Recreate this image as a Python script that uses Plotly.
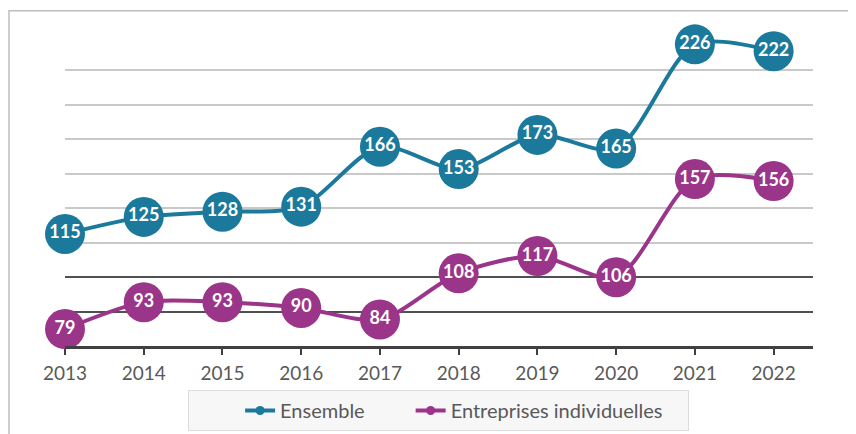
import plotly.graph_objects as go

years = [2013, 2014, 2015, 2016, 2017, 2018, 2019, 2020, 2021, 2022]
ensemble = [115, 125, 128, 131, 166, 153, 173, 165, 226, 222]
entreprises = [79, 93, 93, 90, 84, 108, 117, 106, 157, 156]
series_names = ["Ensemble", "Entreprises individuelles"]
light_grid_vals = [110, 130, 150, 170, 190, 210, 230]
dark_grid_vals = [70, 90]

TEAL = "#1b7a9b"
PURPLE = "#9b358a"
FONT = "Lato"
NB = "\u00a0"

fig = go.Figure()

fig.add_trace(go.Scatter(
    x=years, y=entreprises, mode="lines+markers+text", yaxis="y2",
    line=dict(color=PURPLE, width=4, shape="spline", smoothing=0.8),
    marker=dict(size=40, color=PURPLE),
    text=[str(v) for v in entreprises], textposition="middle center",
    textfont=dict(color="white", size=18, family=FONT, weight="bold"),
    cliponaxis=False, showlegend=False, hoverinfo="skip",
))
fig.add_trace(go.Scatter(
    x=years, y=ensemble, mode="lines+markers+text", yaxis="y3",
    line=dict(color=TEAL, width=4, shape="spline", smoothing=0.8),
    marker=dict(size=40, color=TEAL),
    text=[str(v) for v in ensemble], textposition="middle center",
    textfont=dict(color="white", size=18, family=FONT, weight="bold"),
    cliponaxis=False, showlegend=False, hoverinfo="skip",
))
# legend entries
legend_labels = [series_names[0] + NB * 8, series_names[1] + NB * 4]
for name, col in zip(legend_labels, [TEAL, PURPLE]):
    fig.add_trace(go.Scatter(
        x=[None], y=[None], mode="lines+markers", name=name,
        line=dict(color=col, width=4), marker=dict(size=9, color=col),
    ))

# outer frame
shapes = [dict(type="rect", xref="paper", yref="paper", x0=-0.0749, x1=1.2,
               y0=-0.5, y1=1.0812, line=dict(color="#bfbfbf", width=1.5),
               fillcolor="rgba(0,0,0,0)", layer="below")]

fig.update_layout(
    width=848, height=426,
    margin=dict(l=57, r=43, t=28, b=88, autoexpand=False),
    paper_bgcolor="white", plot_bgcolor="white",
    font=dict(family=FONT, color="#595959"),
    shapes=shapes,
    xaxis=dict(
        range=[2013, 2022.5], tickvals=years, ticktext=[str(y) for y in years],
        showgrid=False, zeroline=False, automargin=False,
        showline=True, linecolor="#404040", linewidth=3,
        ticks="outside", ticklen=6, tickwidth=2, tickcolor="#404040",
        ticklabelstandoff=2,
        tickfont=dict(size=19, color="#595959", family=FONT),
    ),
    yaxis=dict(
        range=[50, 230], tickmode="array", tickvals=light_grid_vals, showticklabels=False,
        showgrid=True, gridcolor="#c9c9c9", gridwidth=2, zeroline=False, automargin=False,
        minor=dict(tickmode="array", tickvals=dark_grid_vals, showgrid=True,
                   gridcolor="#505050", gridwidth=2, ticks=""),
    ),
    yaxis2=dict(
        range=[70.2, 231.4], overlaying="y", visible=False, showgrid=False,
    ),
    yaxis3=dict(
        range=[49.4, 230.9], overlaying="y", visible=False, showgrid=False,
    ),
    legend=dict(
        orientation="h", x=0.4995, xanchor="center",
        y=-0.142, yanchor="top",
        bgcolor="#f7f7f7", bordercolor="#dcdcdc", borderwidth=1,
        font=dict(size=20, color="#595959", family=FONT),
        title=dict(text=NB * 8, font=dict(size=20)),
    ),
)

fig.write_html("out.html")
